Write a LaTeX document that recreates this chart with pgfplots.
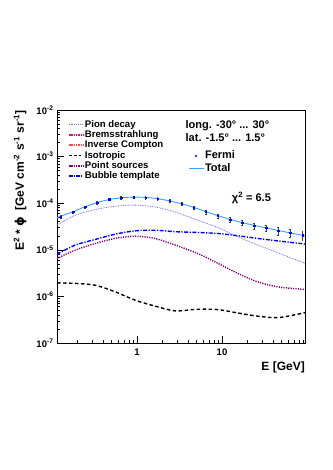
\documentclass[border=0pt]{standalone}
\usepackage{pgfplots}
\pgfplotsset{compat=1.18}
\usepackage{fontspec}
\setmainfont{Liberation Sans}
\newfontfamily\dejavu{DejaVu Sans}

\definecolor{pioncol}{RGB}{110,110,255}
\definecolor{bubcol}{RGB}{0,0,255}
\definecolor{pscol}{RGB}{128,0,128}
\definecolor{totcol}{RGB}{60,160,255}
\definecolor{iccol}{RGB}{255,70,70}

% model components, E in GeV
\pgfplotstableread{
E       pion     bub      ps       iso
0.1145  3.4e-5   8.0e-6   6.5e-6   1.95e-6
0.187   5.5e-5   1.26e-5  9.8e-6   1.9e-6
0.32    7.3e-5   1.66e-5  1.36e-5  1.74e-6
0.55    8.6e-5   2.16e-5  1.75e-5  1.26e-6
0.95    9.1e-5   2.55e-5  1.96e-5  8.3e-7
1.63    8.3e-5   2.63e-5  1.75e-5  6.2e-7
2.8     6.5e-5   2.45e-5  1.27e-5  4.9e-7
5.2     4.3e-5   2.35e-5  8.3e-6   5.3e-7
9.0     3.0e-5   2.24e-5  5.1e-6   5.2e-7
15.4    1.9e-5   2.0e-5   3.1e-6   4.4e-7
26.5    1.26e-5  1.75e-5  2.04e-6  3.76e-7
45.6    8.6e-6   1.55e-5  1.6e-6   3.5e-7
85.7    5.5e-6   1.36e-5  1.43e-6  4.3e-7
94.7    5.1e-6   1.33e-5  1.41e-6  4.5e-7
}\models

% Fermi data
\pgfplotstableread{
E       F        dF
0.1276  5.1e-5   3.1e-6
0.1770  6.5e-5   3.9e-6
0.2455  8.3e-5   5.0e-6
0.3404  1.03e-4  6.2e-6
0.4721  1.22e-4  7.3e-6
0.6546  1.32e-4  7.9e-6
0.9078  1.35e-4  8.1e-6
1.259   1.32e-4  7.9e-6
1.746   1.24e-4  8.7e-6
2.421   1.12e-4  7.8e-6
3.357   9.7e-5   7.8e-6
4.656   8.1e-5   7.3e-6
6.457   6.5e-5   6.5e-6
8.954   5.35e-5  5.9e-6
12.42   4.45e-5  5.3e-6
17.22   3.85e-5  5.4e-6
23.88   3.3e-5   5.0e-6
33.11   2.95e-5  5.0e-6
45.92   2.55e-5  4.6e-6
63.68   2.3e-5   4.4e-6
88.31   2.05e-5  4.1e-6
}\fermi

\pgfplotstableread{
E       T
0.1145  4.9e-5
0.1770  6.6e-5
0.2455  8.4e-5
0.3404  1.03e-4
0.4721  1.2e-4
0.6546  1.31e-4
0.9078  1.35e-4
1.259   1.33e-4
1.746   1.25e-4
2.421   1.12e-4
3.357   9.7e-5
4.656   8.1e-5
6.457   6.6e-5
8.954   5.4e-5
12.42   4.5e-5
17.22   3.85e-5
23.88   3.35e-5
33.11   2.95e-5
45.92   2.6e-5
63.68   2.3e-5
94.7    2.0e-5
}\total

\pgfplotsset{
  frame/.style={scale only axis, width=248pt, height=233pt,
    at={(57pt,127pt)}, anchor=south west,
    xmin=0.1145, xmax=94.7, ymin=1e-7, ymax=1e-2},
  limg/.style={legend image code/.code={\draw[#1] (0pt,0pt) -- (14pt,0pt);}},
}

\begin{document}
\begin{tikzpicture}
\useasboundingbox (0,0) rectangle (332pt,470pt);
\begin{loglogaxis}[frame,
  axis line style={line width=0.6pt},
  tick align=inside, xtick pos=bottom, ytick pos=left,
  major tick length=7pt, minor tick length=3.5pt,
  tick style={black, line width=0.5pt},
  xtick={1,10}, xticklabels={1,10},
  minor xtick={0.2,0.3,0.4,0.5,0.6,0.7,0.8,0.9,2,3,4,5,6,7,8,9,20,30,40,50,60,70,80,90},
  ytick={1e-7,1e-6,1e-5,1e-4,1e-3,1e-2},
  yticklabels={10\textsuperscript{-7},10\textsuperscript{-6},10\textsuperscript{-5},10\textsuperscript{-4},10\textsuperscript{-3},10\textsuperscript{-2}},
  minor ytick={2e-7,3e-7,4e-7,5e-7,6e-7,7e-7,8e-7,9e-7,
    2e-6,3e-6,4e-6,5e-6,6e-6,7e-6,8e-6,9e-6,
    2e-5,3e-5,4e-5,5e-5,6e-5,7e-5,8e-5,9e-5,
    2e-4,3e-4,4e-4,5e-4,6e-4,7e-4,8e-4,9e-4,
    2e-3,3e-3,4e-3,5e-3,6e-3,7e-3,8e-3,9e-3},
  ticklabel style={font=\bfseries\fontsize{9.5}{11}\selectfont},
  xticklabel style={yshift=-2pt},
  xlabel={E [GeV]},
  xlabel style={at={(axis description cs:1,-0.103)}, anchor=east, inner sep=0pt,
    font=\bfseries\fontsize{12}{14}\selectfont},
  ylabel={E\textsuperscript{2} * {\dejavu\bfseries ϕ}\; [GeV cm\textsuperscript{-2} s\textsuperscript{-1} sr\textsuperscript{-1}]},
  ylabel style={at={(axis description cs:-0.149,1)}, anchor=east, inner sep=0pt,
    font=\bfseries\fontsize{12}{14}\selectfont},
  legend style={at={(axis description cs:0.045,0.96)}, anchor=north west,
    draw=none, fill=none, inner sep=0pt,
    font=\bfseries\fontsize{9.6}{11}\selectfont,
    nodes={inner sep=1pt, text height=6.6pt, text depth=1.7pt}},
  legend cell align=left,
]
\addlegendimage{limg={pioncol, line width=1.6pt, dash pattern=on 1.3pt off 0.9pt}}
\addlegendentry{Pion decay}
\addlegendimage{limg={magenta, line width=1.6pt, dash pattern=on 1.4pt off 0.9pt}}
\addlegendentry{Bremsstrahlung}
\addlegendimage{limg={iccol, line width=1.6pt, dash pattern=on 1.4pt off 0.9pt}}
\addlegendentry{Inverse Compton}
\addlegendimage{limg={black, line width=1.6pt, dash pattern=on 2.8pt off 1.9pt}}
\addlegendentry{Isotropic}
\addlegendimage{limg={pscol, line width=1.6pt, dash pattern=on 1.4pt off 0.9pt}}
\addlegendentry{Point sources}
\addlegendimage{limg={bubcol, line width=1.6pt, dash pattern=on 3.5pt off 1.2pt on 1.2pt off 1.2pt}}
\addlegendentry{Bubble template}
\addplot[pioncol, line width=0.8pt, dash pattern=on 0.8pt off 0.9pt, smooth, forget plot] table[x=E,y=pion] {\models};
\addplot[black, line width=1.4pt, dash pattern=on 3.5pt off 2.5pt, smooth, forget plot] table[x=E,y=iso] {\models};
\addplot[pscol, line width=1.4pt, dash pattern=on 1.2pt off 1.2pt, smooth, forget plot] table[x=E,y=ps] {\models};
\addplot[bubcol, line width=1.4pt, dash pattern=on 4pt off 1.5pt on 1.2pt off 1.5pt, smooth, forget plot] table[x=E,y=bub] {\models};
\node[anchor=west, inner sep=0pt, font=\bfseries\fontsize{11}{13}\selectfont]
  at (axis description cs:0.518,0.933) {long. -30° ... 30°};
\node[anchor=west, inner sep=0pt, font=\bfseries\fontsize{11}{13}\selectfont]
  at (axis description cs:0.518,0.880) {lat. -1.5° ... 1.5°};
\node[inner sep=0pt, font=\bfseries\fontsize{11}{13}\selectfont]
  at (axis description cs:0.784,0.624) {χ\textsuperscript{2} = 6.5};
\end{loglogaxis}
\begin{loglogaxis}[frame, hide axis,
  legend style={at={(axis description cs:0.528,0.83)}, anchor=north west,
    draw=none, fill=none, inner sep=0pt,
    font=\bfseries\fontsize{11}{13}\selectfont,
    nodes={inner sep=1pt, text height=8pt, text depth=2.3pt}},
  legend cell align=left,
]
\addlegendimage{legend image code/.code={\fill[blue] (7.5pt,0pt) circle (0.8pt);}}
\addlegendentry{Fermi}
\addlegendimage{legend image code/.code={\draw[totcol, line width=0.9pt] (0pt,0pt) -- (15pt,0pt);}}
\addlegendentry{Total}
\addplot[totcol, line width=0.9pt, smooth, forget plot] table[x=E,y=T] {\total};
\addplot[only marks, mark=square*, mark size=0.7pt, blue, forget plot,
  error bars/.cd, y dir=both, y explicit,
  error bar style={black!75, line width=0.4pt},
  error mark options={black!75, rotate=90, mark size=0.9pt, line width=0.4pt}]
  table[x=E,y=F,y error=dF] {\fermi};
\end{loglogaxis}
\end{tikzpicture}
\end{document}
